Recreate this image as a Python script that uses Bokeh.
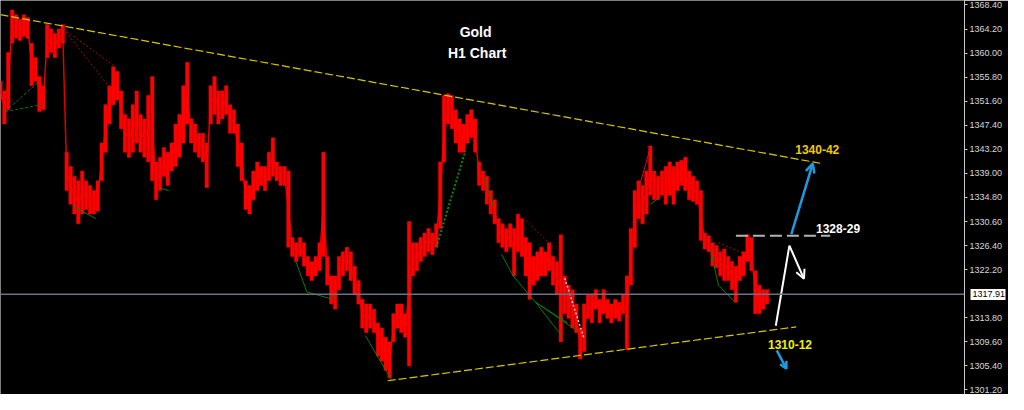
from bokeh.plotting import figure
from bokeh.models import (Range1d, FixedTicker, Span, Label, Arrow, OpenHead,
                          NumeralTickFormatter, ColumnDataSource, LinearAxis)
from bokeh.embed import file_html
from bokeh.resources import INLINE

# ---------------- data (bar index, prices) ----------------
highs = [
    1355.1, 1353.4, 1360.1, 1367.5, 1366.7, 1365.9, 1366.7, 1366.2, 1361.7, 1359.2,
    1355.9, 1354.3, 1365.0, 1364.2, 1363.4, 1364.2, 1365.0, 1342.7, 1340.2, 1338.5,
    1337.7, 1339.4, 1337.7, 1336.9, 1336.0, 1337.7, 1344.3, 1351.0, 1354.3, 1357.6,
    1356.8, 1353.4, 1349.3, 1348.5, 1351.0, 1353.4, 1349.3, 1348.5, 1352.6, 1355.9,
    1341.0, 1341.8, 1343.5, 1342.7, 1344.3, 1347.6, 1349.3, 1354.3, 1358.4, 1348.5,
    1347.6, 1346.0, 1346.0, 1344.3, 1354.3, 1355.9, 1353.4, 1353.4, 1354.3, 1351.0,
    1350.1, 1347.6, 1344.3, 1337.7, 1336.9, 1339.4, 1341.0, 1340.2, 1340.2, 1342.7,
    1345.2, 1341.0, 1340.2, 1340.2, 1339.4, 1327.8, 1326.9, 1327.8, 1326.9, 1324.5,
    1323.6, 1324.5, 1326.9, 1342.7, 1324.5, 1321.1, 1321.1, 1324.5, 1325.3, 1326.1,
    1325.3, 1322.8, 1320.3, 1317.0, 1316.2, 1316.2, 1315.3, 1312.9, 1312.0, 1310.4,
    1309.6, 1314.5, 1316.2, 1316.2, 1314.5, 1330.6, 1326.9, 1326.9, 1327.8, 1328.6,
    1329.4, 1328.6, 1330.2, 1341.0, 1352.6, 1352.9, 1352.6, 1350.1, 1348.5, 1347.6,
    1349.3, 1350.1, 1348.5, 1341.0, 1339.4, 1338.5, 1336.0, 1334.4, 1331.1, 1330.2,
    1329.4, 1330.2, 1329.4, 1331.9, 1331.1, 1327.8, 1326.9, 1324.5, 1325.3, 1326.1,
    1325.3, 1326.9, 1324.5, 1323.6, 1328.3, 1321.1, 1319.5, 1318.7, 1316.2, 1312.0,
    1316.2, 1317.8, 1317.8, 1318.7, 1317.0, 1318.7, 1317.0, 1316.2, 1317.0, 1316.5,
    1317.8, 1321.1, 1329.4, 1336.0, 1337.7, 1336.9, 1339.4, 1343.8, 1339.4, 1338.5,
    1339.4, 1340.2, 1341.0, 1340.2, 1341.0, 1341.3, 1341.8, 1339.4, 1338.5, 1337.7,
    1336.0, 1328.6, 1328.1, 1326.9, 1326.4, 1325.3, 1325.8, 1324.5, 1323.6, 1322.8,
    1324.5, 1325.3, 1328.3, 1327.8, 1322.0, 1319.5, 1318.7, 1318.7,
]
lows = [
    1351.8, 1347.6, 1350.1, 1361.7, 1362.6, 1362.2, 1362.9, 1362.6, 1354.3, 1355.1,
    1349.8, 1350.1, 1359.2, 1360.1, 1359.2, 1360.9, 1361.7, 1336.0, 1333.6, 1331.9,
    1330.2, 1331.9, 1332.7, 1331.9, 1331.9, 1332.4, 1337.7, 1342.7, 1347.6, 1351.0,
    1351.8, 1346.8, 1342.7, 1341.8, 1342.7, 1344.3, 1342.7, 1341.8, 1341.0, 1337.7,
    1334.4, 1336.0, 1338.5, 1336.9, 1339.4, 1340.2, 1341.8, 1344.3, 1347.6, 1344.3,
    1342.7, 1341.8, 1341.0, 1336.5, 1347.6, 1349.3, 1347.6, 1348.5, 1349.3, 1346.0,
    1346.0, 1340.2, 1337.7, 1332.7, 1331.9, 1334.4, 1336.0, 1336.9, 1336.0, 1337.7,
    1338.5, 1337.7, 1336.9, 1336.9, 1326.1, 1324.5, 1323.6, 1324.5, 1322.8, 1321.1,
    1320.3, 1321.1, 1322.0, 1324.5, 1319.5, 1316.2, 1315.3, 1318.7, 1321.1, 1322.0,
    1320.3, 1317.8, 1316.2, 1312.0, 1311.2, 1312.0, 1311.2, 1307.1, 1306.2, 1304.6,
    1303.3, 1309.6, 1312.0, 1311.2, 1310.4, 1305.4, 1321.1, 1322.0, 1323.6, 1324.5,
    1325.3, 1324.8, 1326.1, 1329.4, 1341.0, 1347.6, 1346.8, 1344.3, 1342.7, 1342.7,
    1344.3, 1345.2, 1342.7, 1336.9, 1336.0, 1333.6, 1331.9, 1330.2, 1326.9, 1326.1,
    1325.3, 1326.1, 1321.1, 1325.3, 1324.5, 1321.1, 1317.0, 1319.5, 1320.3, 1321.1,
    1321.1, 1322.0, 1319.5, 1317.8, 1309.6, 1314.5, 1313.7, 1312.0, 1311.2, 1306.6,
    1307.9, 1313.7, 1312.9, 1315.3, 1312.9, 1314.5, 1313.7, 1312.9, 1313.7, 1313.2,
    1314.5, 1308.2, 1319.5, 1326.1, 1331.1, 1330.2, 1331.9, 1335.2, 1334.4, 1334.4,
    1335.2, 1333.6, 1335.2, 1333.6, 1336.0, 1336.9, 1336.0, 1334.4, 1334.1, 1333.6,
    1327.3, 1325.8, 1325.3, 1322.8, 1322.5, 1321.1, 1320.3, 1320.3, 1318.7, 1316.5,
    1320.3, 1321.1, 1323.6, 1322.0, 1314.5, 1314.5, 1315.3, 1316.2,
]
bars = list(range(len(highs)))

tick_values = [1301.2, 1305.4, 1309.6, 1313.8, 1322.2, 1326.4, 1330.6, 1334.8,
               1339.0, 1343.2, 1347.4, 1351.6, 1355.8, 1360.0, 1364.2, 1368.4]
bid_price = 1317.91

upper_trend_x = [0, 211.25]
upper_trend_y = [1366.7, 1340.7]
lower_trend_x = [99.5, 204.5]
lower_trend_y = [1302.8, 1312.2]
level_x = [189, 213.25]
level_y = [1328.1, 1328.1]

green_dash_x0 = [1.25, 1.25]
green_dash_y0 = [1349.8, 1349.8]
green_dash_x1 = [10.0, 10.75]
green_dash_y1 = [1355.1, 1351.0]

green_x0 = [18.75, 40.75, 75.75, 78.75, 93.75, 124.25, 128.75, 131.75, 137.5, 137.5, 137.5, 182.5, 184.5, 167.0]
green_y0 = [1333.2, 1336.5, 1323.9, 1318.3, 1310.7, 1338.2, 1324.9, 1321.1, 1316.5, 1316.5, 1316.5, 1325.6, 1319.5, 1333.6]
green_x1 = [24.5, 43.25, 78.75, 85.5, 100.5, 126.75, 131.75, 137.5, 144.5, 148.25, 145.75, 184.5, 188.75, 169.25]
green_y1 = [1331.1, 1336.0, 1318.3, 1317.0, 1302.9, 1333.2, 1321.1, 1316.5, 1310.4, 1311.5, 1312.9, 1319.5, 1316.5, 1334.7]

green_dot_x = [112.0, 119.5]
green_dot_y = [1326.1, 1343.0]

red_dot_x0 = [16.25, 16.25, 135.0, 152.5, 184.5]
red_dot_y0 = [1364.2, 1364.2, 1330.8, 1318.5, 1326.9]
red_dot_x1 = [29.5, 28.25, 142.5, 156.75, 191.75]
red_dot_y1 = [1357.6, 1353.8, 1325.8, 1318.3, 1324.8]

red_x0 = [163.75, 171.75]
red_y0 = [1335.6, 1339.7]
red_x1 = [167.0, 175.5]
red_y1 = [1343.5, 1340.5]

white_dot_x = [145.0, 150.0]
white_dot_y = [1320.7, 1310.1]

blue_up = [203.25, 1328.4, 208.75, 1340.7]
blue_down = [199.5, 1308.1, 202.0, 1304.9]
white_up_x = [199.25, 202.75]
white_up_y = [1312.4, 1326.4]
white_down = [202.75, 1326.4, 206.5, 1320.6]

# ---------------- figure ----------------
p = figure(width=1008, height=394, output_backend="svg", toolbar_location=None,
           x_range=Range1d(0, 247.75), y_range=Range1d(1300.4, 1369.18),
           y_axis_location="right", background_fill_color="black",
           border_fill_color="black", min_border_left=0, min_border_top=0,
           min_border_bottom=0, min_border_right=0)
p.outline_line_color = None
p.grid.visible = False
p.xaxis.visible = False

ax = p.yaxis[0]
ax.ticker = FixedTicker(ticks=tick_values)
ax.formatter = NumeralTickFormatter(format="0.00")
ax.major_label_text_font = "Liberation Sans"
ax.major_label_text_font_size = "9px"
ax.major_label_text_color = "#d8d8d8"
ax.axis_line_color = "#c8c8c8"
ax.major_tick_line_color = "#c8c8c8"
ax.minor_tick_line_color = None
ax.major_tick_in = 0
ax.major_tick_out = 3
ax.major_label_standoff = 2

# bid price marker: an outer axis whose single tick is a wide white bar under its label
bid_ax = LinearAxis(ticker=FixedTicker(ticks=[bid_price]),
                    formatter=NumeralTickFormatter(format="0.00"))
bid_ax.axis_line_color = None
bid_ax.minor_tick_line_color = None
bid_ax.major_tick_out = 0
bid_ax.major_tick_in = 35
bid_ax.major_tick_line_color = "white"
bid_ax.major_tick_line_width = 11
bid_ax.major_label_standoff = -33
bid_ax.major_label_text_font = "Liberation Sans"
bid_ax.major_label_text_font_size = "9px"
bid_ax.major_label_text_color = "black"
p.add_layout(bid_ax, "right")

p.add_layout(Span(location=bid_price, dimension="width", line_color="#6e7280", line_width=1.5))

src = ColumnDataSource(dict(x=bars, hi=highs, lo=lows,
                            mid=[(h + l) / 2 for h, l in zip(highs, lows)]))
p.line("x", "mid", source=src, line_color="#e00000", line_width=1.5)
p.vbar(x="x", top="hi", bottom="lo", width=0.9, source=src,
       fill_color="#ff0000", line_color="#e80000", line_width=0.5)

# zigzag helper lines
p.segment(green_dash_x0, green_dash_y0, green_dash_x1, green_dash_y1,
          line_color="#0b7a0b", line_width=1, line_dash="3 2")
p.segment(green_x0, green_y0, green_x1, green_y1, line_color="#0b7a0b", line_width=1)
p.line(green_dot_x, green_dot_y, line_color="#0b8a0b", line_width=2, line_dash="2 2")
p.segment(red_dot_x0, red_dot_y0, red_dot_x1, red_dot_y1,
          line_color="#a01010", line_width=1, line_dash="2 2")
p.segment(red_x0, red_y0, red_x1, red_y1, line_color="#d01010", line_width=1)
p.line(white_dot_x, white_dot_y, line_color="#c8c8c8", line_width=1.5, line_dash="2 2")

# trend lines
p.line(upper_trend_x, upper_trend_y, line_color="#d8c800", line_width=1.2, line_dash="8 3")
p.line(lower_trend_x, lower_trend_y, line_color="#d8c800", line_width=1.2, line_dash="8 3")
p.line(level_x, level_y, line_color="#b4b4b4", line_width=2, line_dash="12 5")

# arrows
p.add_layout(Arrow(end=OpenHead(size=9, line_color="#1e9be0", line_width=2.5),
                   x_start=blue_up[0], y_start=blue_up[1], x_end=blue_up[2], y_end=blue_up[3],
                   line_color="#1e9be0", line_width=2.5))
p.add_layout(Arrow(end=OpenHead(size=7, line_color="#1e9be0", line_width=2.5),
                   x_start=blue_down[0], y_start=blue_down[1], x_end=blue_down[2], y_end=blue_down[3],
                   line_color="#1e9be0", line_width=2.5))
p.line(white_up_x, white_up_y, line_color="white", line_width=2)
p.add_layout(Arrow(end=OpenHead(size=9, line_color="white", line_width=2),
                   x_start=white_down[0], y_start=white_down[1], x_end=white_down[2], y_end=white_down[3],
                   line_color="white", line_width=2))

# texts
def txt(x, y, t, color, size):
    p.add_layout(Label(x=x, y=y, text=t, text_color=color, text_font="Liberation Sans",
                       text_font_style="bold", text_font_size=size,
                       text_align="center", text_baseline="middle"))

txt(122.1, 1363.7, "Gold", "white", "14px")
txt(122.5, 1360.1, "H1 Chart", "white", "14px")
txt(209.9, 1343.1, "1340-42", "#f5c800", "12px")
txt(215.25, 1329.4, "1328-29", "white", "12px")
txt(202.9, 1309.2, "1310-12", "#f0f000", "12px")

open("out.html", "w").write(file_html(p, INLINE))
